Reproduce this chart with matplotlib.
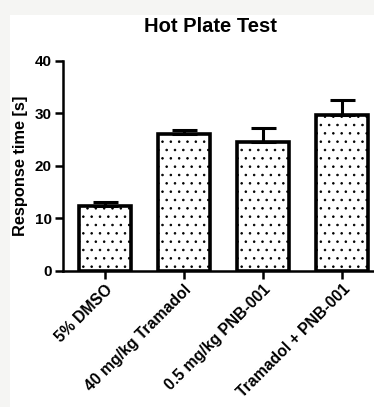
import matplotlib
matplotlib.use("Agg")
import matplotlib.pyplot as plt
from matplotlib.patches import Rectangle

categories = ["5% DMSO", "40 mg/kg Tramadol", "0.5 mg/kg PNB-001", "Tramadol + PNB-001"]
means = [12.3, 26.0, 24.6, 29.7]
errors = [0.8, 0.8, 2.6, 2.9]
yticks = [0, 10, 20, 30, 40]

plt.rcParams['font.family'] = ['Liberation Sans', 'DejaVu Sans']
plt.rcParams['hatch.linewidth'] = 0.6
plt.rcParams['hatch.color'] = '#777777'

W, H = 374, 407
fig = plt.figure(figsize=(W / 100, H / 100), dpi=100, facecolor='#f5f5f3')
bg = Rectangle((10 / W, 0), 1, 1 - 15 / H, transform=fig.transFigure,
               facecolor='white', edgecolor='none', zorder=-10)
fig.add_artist(bg)

ax = fig.add_axes([63 / W, (H - 270.7) / H, 1 - 63 / W, (270.7 - 60.7) / H])
ax.set_zorder(5)
ax.set_facecolor('none')
x = list(range(len(categories)))
ax.bar(x, means, width=0.66, facecolor='white', edgecolor='black', linewidth=2.6,
       hatch='..', zorder=2)
ax.errorbar(x, means, yerr=[[0] * len(errors), errors], fmt='none', ecolor='black',
            elinewidth=2.2, capsize=9, capthick=2.2, zorder=3)

ax.set_xlim(-0.53, 3.40)
ax.set_ylim(0, 40)
ax.set_yticks(yticks)
ax.set_yticklabels([str(v) for v in yticks], fontsize=11, fontweight='bold')
ax.set_xticks(x)
ax.set_xticklabels(categories, rotation=45, ha='right', rotation_mode='anchor',
                   fontsize=11.3, fontweight='bold')
for s in ['top', 'right']:
    ax.spines[s].set_visible(False)
for s in ['left', 'bottom']:
    ax.spines[s].set_linewidth(1.8)
ax.tick_params(axis='both', width=1.8, length=6, direction='out', pad=2)
ax.set_ylabel("Response time [s]", fontsize=11.8, fontweight='bold', labelpad=5)
fig.text(210 / W, 1 - 27 / H, "Hot Plate Test", ha='center', va='center',
         fontsize=14.5, fontweight='bold', zorder=6)

fig.savefig("out.png", dpi=100, facecolor=fig.get_facecolor())
